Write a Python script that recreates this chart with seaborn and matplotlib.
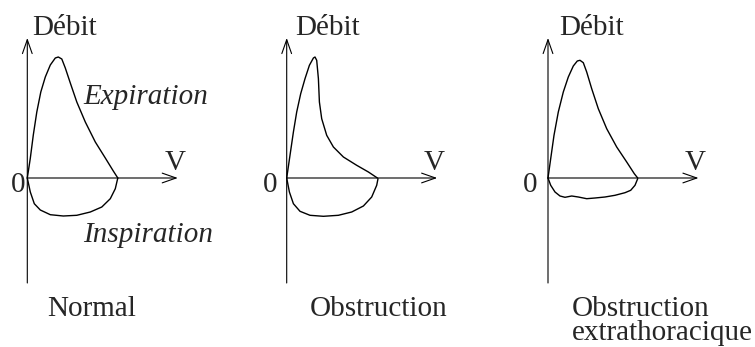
import numpy as np
import pandas as pd
import seaborn as sns
import matplotlib.pyplot as plt

# flow-volume loops, volume to the right, flow up (expiration > 0)
panel_names = [["Normal"], ["Obstruction"], ["Obstruction", "extrathoracique"]]

normal_exp_vol = [0, 3, 6, 9.5, 13.5, 18, 23, 28, 31, 34.5, 38, 43, 49.5, 58, 68, 78, 86, 90.5]
normal_exp_flow = [0, 19.7, 43, 66, 86, 101, 113, 120, 121, 119, 110, 95, 76, 56, 36, 20, 7, 0]
normal_insp_vol = [0, 3, 7, 13, 23, 36, 49.5, 63, 74.5, 83, 88, 90.5]
normal_insp_flow = [0, -14, -25.7, -32, -36.7, -38, -37.3, -34, -29, -20.7, -10.7, 0]

obst_exp_vol = [0, 3.3, 6.7, 10, 14, 18.3, 22.7, 26.7, 28.3, 30, 31.7, 32.7, 35, 40, 46.7, 56.7, 70, 81.7, 90.7]
obst_exp_flow = [0, 22.7, 46, 66, 84.3, 99.3, 112.7, 120, 121, 117.7, 99.3, 76, 59.3, 42.7, 31, 21, 12.7, 6, 0]
obst_insp_vol = [0, 2.7, 6.7, 13.3, 23.3, 36.7, 51.7, 65, 76.7, 85, 90, 91.3]
obst_insp_flow = [0, -14, -25.7, -33.3, -37.3, -38.3, -37.3, -34, -28, -19, -7.3, -0.7]

extra_exp_vol = [0, 2.7, 6, 10.3, 15.3, 20.3, 25.3, 29.3, 32, 35.3, 38.7, 43.7, 50.3, 58.7, 68.7, 78.7, 86.3, 89.7]
extra_exp_flow = [0, 19.3, 42.7, 66, 86, 101, 112, 117, 117.7, 115.3, 106, 89.3, 69.3, 49.3, 31, 16, 4.3, 0]
extra_insp_vol = [0, 2.7, 7, 12, 17, 23.7, 30.3, 38.7, 47, 57, 67, 77, 82.7, 87, 89.7]
extra_insp_flow = [0, -7.3, -14, -18, -19.3, -18, -19, -20.7, -20, -19, -17.3, -14.7, -12.3, -7.3, -0.7]

curves = [
    [(normal_exp_vol, normal_exp_flow), (normal_insp_vol, normal_insp_flow)],
    [(obst_exp_vol, obst_exp_flow), (obst_insp_vol, obst_insp_flow)],
    [(extra_exp_vol, extra_exp_flow), (extra_insp_vol, extra_insp_flow)],
]

sns.set_style("white")
plt.rcParams["font.family"] = ["Liberation Serif", "DejaVu Serif"]
fs = 21

W, H = 755, 347
fig = plt.figure(figsize=(W / 100, H / 100), dpi=100)

origins = [27.3, 286.7, 548]   # pixel x of each y-axis
oy = 169                         # pixel height of x-axis from bottom
zero_dx = [-2, -9.5, -11]
left_pad, right_pad = 25, 200

for i, ox in enumerate(origins):
    ax = fig.add_axes([(ox - left_pad) / W, 0, (left_pad + right_pad) / W, 1])
    ax.set_xlim(-left_pad, right_pad)
    ax.set_ylim(-oy, H - oy)
    ax.axis("off")
    ax.patch.set_alpha(0)

    for vol, flow in curves[i]:
        df = pd.DataFrame({"vol": vol, "flow": flow})
        sns.lineplot(data=df, x="vol", y="flow", sort=False, estimator=None,
                     color="black", lw=1.0, ax=ax)

    arrow = dict(arrowstyle="->,head_length=1.0,head_width=0.35",
                 color="black", lw=0.8, shrinkA=0, shrinkB=0, mutation_scale=10)
    ax.annotate("", xy=(0, 140), xytext=(0, -105), arrowprops=arrow)
    ax.annotate("", xy=(150.5, 0), xytext=(0, 0), arrowprops=arrow)

    ax.text(5 + 3 * i, 143, "Débit", fontsize=fs, ha="left", va="baseline")
    ax.text(zero_dx[i], -14, "0", fontsize=fs, ha="right", va="baseline")
    ax.text(137, 8, "V", fontsize=fs, ha="left", va="baseline")
    label_x = [20, 23, 24][i]
    for k, line in enumerate(panel_names[i]):
        ax.text(label_x, -138 - 24 * k, line, fontsize=fs, ha="left", va="baseline")

    if i == 0:
        ax.text(56, 74, "Expiration", fontsize=fs, style="italic",
                ha="left", va="baseline")
        ax.text(56, -64, "Inspiration", fontsize=fs, style="italic",
                ha="left", va="baseline")

fig.savefig("out.png", dpi=100)
